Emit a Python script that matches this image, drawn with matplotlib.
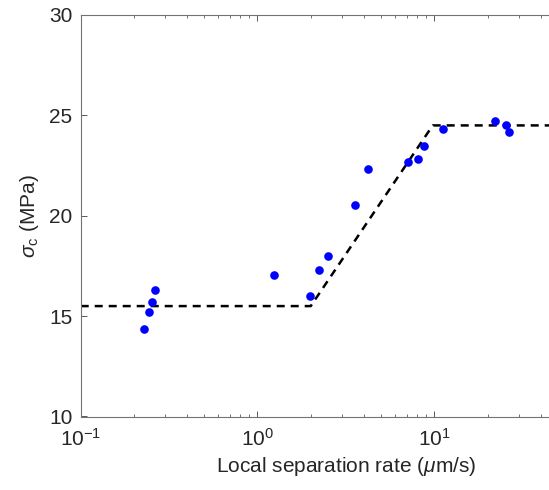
import numpy as np
import matplotlib
matplotlib.use("Agg")
import matplotlib.pyplot as plt
from matplotlib.ticker import LogLocator, FixedLocator

plt.rcParams["font.family"] = ["Liberation Sans", "DejaVu Sans"]
plt.rcParams["mathtext.fontset"] = "custom"
plt.rcParams["mathtext.rm"] = "Liberation Sans"
plt.rcParams["mathtext.it"] = "Liberation Sans:italic"

# measured points: local separation rate (um/s) vs critical stress (MPa)
rate = [0.228, 0.242, 0.253, 0.262,
        1.236, 1.98, 2.22, 2.49, 3.55, 4.22,
        7.11, 8.07, 8.80, 11.27,
        22.1, 25.6, 26.5]
sigma_c = [14.37, 15.19, 15.69, 16.30,
           17.03, 16.00, 17.28, 18.01, 20.53, 22.31,
           22.69, 22.81, 23.49, 24.31,
           24.72, 24.52, 24.19]

# piecewise fit (plateau - log-linear rise - plateau)
fit_rate = [0.1, 2.0, 9.8, 100.0]
fit_sigma = [15.5, 15.5, 24.5, 24.5]

x_ticks = [0.1, 1, 10]
y_ticks = [10, 15, 20, 25, 30]

W, H = 549, 490
fig = plt.figure(figsize=(W / 100, H / 100), dpi=100)
# axes run past the right edge (the reference is cropped there)
left, right, top, bottom = 80.7, 611.1, 15, 416.5
ax = fig.add_axes([left / W, 1 - bottom / H, (right - left) / W, (bottom - top) / H])

ax.plot(fit_rate, fit_sigma, color="black", lw=1.8, ls=(0, (3.2, 2.4)), zorder=2)
ax.plot(rate, sigma_c, "o", color="#0000ff", ms=6.2, mec="none", zorder=3)

ax.set_xscale("log")
ax.set_xlim(0.1, 100)
ax.set_ylim(10, 30)
ax.yaxis.set_major_locator(FixedLocator(y_ticks))
ax.xaxis.set_major_locator(FixedLocator(x_ticks))
ax.xaxis.set_minor_locator(LogLocator(base=10, subs=np.arange(2, 10), numticks=20))

ax.tick_params(which="both", direction="in", top=True, right=True,
               color="0.35", labelcolor="0.15", labelsize=15)
ax.tick_params(which="major", length=4, width=0.7, pad=6)
ax.tick_params(axis="x", which="major", pad=8)
ax.tick_params(which="minor", length=2.5, width=0.6)
for s in ax.spines.values():
    s.set_color("0.45")
    s.set_linewidth(0.8)

ax.set_xlabel(r"Local separation rate ($\mu$m/s)", fontsize=15, color="0.15", labelpad=4)
ax.set_ylabel(r"$\sigma_\mathrm{c}$ (MPa)", fontsize=15, color="0.15", labelpad=6)

fig.savefig("out.png", dpi=100)
